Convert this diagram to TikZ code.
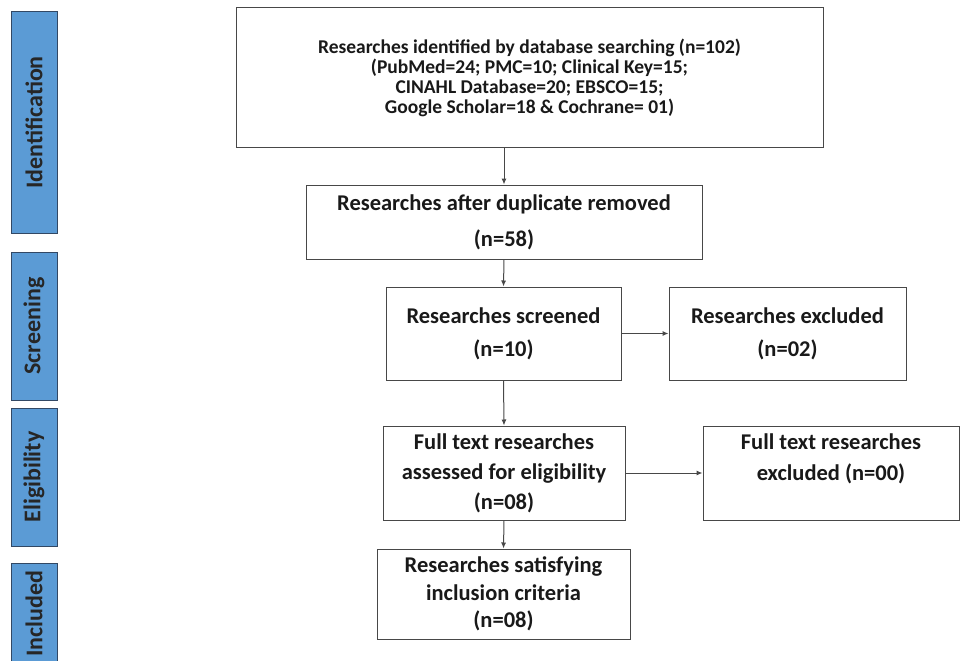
\documentclass[tikz,border=0pt]{standalone}
\usepackage{fontspec}
\setmainfont{Carlito}
\usetikzlibrary{arrows.meta,positioning}
\definecolor{barblue}{RGB}{91,155,213}
\definecolor{barline}{RGB}{50,72,100}
\definecolor{boxline}{RGB}{72,72,72}
\tikzset{
  >=Latex,
  stage/.style={draw=barline, line width=1pt, fill=barblue, rotate=90,
    minimum height=46pt, inner sep=0pt, text=black!85,
    font=\fontsize{24}{26}\selectfont\bfseries},
  record/.style={draw=boxline, line width=1pt, fill=white, align=center,
    inner sep=2pt, text=black!90, font=\fontsize{22.5}{30}\selectfont\bfseries},
  recordsmall/.style={record, font=\fontsize{19.5}{20}\selectfont\bfseries},
  arr/.style={-{Latex[length=6pt,width=5pt]}, draw=boxline, line width=1pt}
}

\begin{document}
\begin{tikzpicture}[x=1pt,y=-1pt]
\useasboundingbox (0,0) rectangle (961,661);
\clip (0,0) rectangle (961,661);

% ------------------------------------------------------------------
% stage bars
% ------------------------------------------------------------------
\node[stage, minimum width=221pt] (identBar) at (34,122.5) {Identification};
\node[stage, minimum width=148pt] (screenBar) at (34,326) {Screening};
\node[stage, minimum width=138pt] (eligBar) at (34,477) {Eligibility};
\node[stage, minimum width=102pt] (inclBar) at (34,614) {Included};

% ------------------------------------------------------------------
% flow boxes
% ------------------------------------------------------------------
\node[recordsmall, minimum width=587pt, minimum height=139pt] (foundBox) at (529.5,77.5)
  {Researches identified by database searching (n=102)\\
   (PubMed=24; PMC=10; Clinical Key=15;\\
   CINAHL Database=20; EBSCO=15;\\
   Google Scholar=18 \& Cochrane= 01)};
\node[record, minimum width=396pt, minimum height=74pt, text depth=2pt,
  font=\fontsize{22.5}{36}\selectfont\bfseries] (dedupBox) at (504,222)
  {Researches after duplicate removed\\(n=58)};
\node[record, minimum width=235pt, minimum height=93pt,
  font=\fontsize{22.5}{33}\selectfont\bfseries] (screenBox) at (503.5,333.5)
  {Researches screened\\(n=10)};
\node[record, minimum width=237pt, minimum height=93pt,
  font=\fontsize{22.5}{33}\selectfont\bfseries] (exclBox) at (787.5,333.5)
  {Researches excluded\\(n=02)};
\node[record, minimum width=242pt, minimum height=94pt] (fullBox) at (504,473)
  {Full text researches\\assessed for eligibility\\(n=08)};
\node[record, minimum width=256pt, minimum height=94pt,
  font=\fontsize{22.5}{31}\selectfont\bfseries] (fullExclBox) at (831,473)
  {Full text researches\\excluded (n=00)\\\mbox{}};
\node[record, minimum width=253pt, minimum height=90pt,
  font=\fontsize{22.5}{27.5}\selectfont\bfseries] (inclBox) at (503.5,594)
  {Researches satisfying\\inclusion criteria\\(n=08)};

\draw[arr] (foundBox.south -| dedupBox.north) -- (dedupBox.north);
\draw[arr] (dedupBox.south) -- (screenBox.north);
\draw[arr] (screenBox) -- (exclBox);
\draw[arr] (screenBox.south) -- (fullBox.north);
\draw[arr] (fullBox) -- (fullExclBox);
\draw[arr] (fullBox.south) -- (inclBox.north);

\end{tikzpicture}
\end{document}
